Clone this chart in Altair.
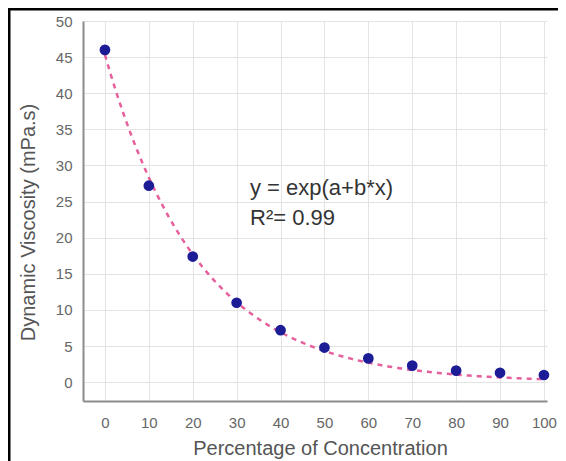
import altair as alt
import numpy as np
import pandas as pd

concentration = [0, 10, 20, 30, 40, 50, 60, 70, 80, 90, 100]
viscosity = [46.0, 27.2, 17.4, 11.0, 7.2, 4.8, 3.3, 2.3, 1.6, 1.3, 1.0]
x_ticks = [0, 10, 20, 30, 40, 50, 60, 70, 80, 90, 100]
y_ticks = [0, 5, 10, 15, 20, 25, 30, 35, 40, 45, 50]
annotation = ["y = exp(a+b*x)", "R\u00b2= 0.99"]

df = pd.DataFrame({"x": concentration, "y": viscosity})

# least-squares fit of y = exp(a + b*x) (Gauss-Newton, started from the log-linear fit)
xs = np.array(concentration, dtype=float)
ys = np.array(viscosity, dtype=float)
b, a = np.polyfit(xs, np.log(ys), 1)
for _ in range(50):
    f = np.exp(a + b * xs)
    J = np.column_stack([f, f * xs])
    step, *_ = np.linalg.lstsq(J, ys - f, rcond=None)
    a += step[0]
    b += step[1]

FONT = "Liberation Sans"

xscale = alt.Scale(domain=[-5, 100.7], nice=False, zero=False)
yscale = alt.Scale(domain=[-2.6, 50], nice=False, zero=False)

xaxis = alt.Axis(values=x_ticks, title="Percentage of Concentration", grid=True,
                 gridColor="#e3e3e3", gridWidth=1, ticks=False, labelPadding=21,
                 labelBaseline="middle", labelFontSize=15, labelColor="#666666",
                 labelFont=FONT, titleFont=FONT, titleFontSize=20, titleFontWeight="normal",
                 titleColor="#555555", titleX=237, titleY=47, titleBaseline="middle",
                 domainColor="#8c8c8c", domainWidth=2, labelFlush=False, labelOverlap=False)
yaxis = alt.Axis(values=y_ticks, title="Dynamic Viscosity (mPa.s)", grid=True,
                 gridColor="#e3e3e3", gridWidth=1, ticks=False, labelPadding=11,
                 labelFontSize=15, labelColor="#666666", labelFont=FONT,
                 titleFont=FONT, titleFontSize=20, titleFontWeight="normal",
                 titleColor="#555555", titleX=-55, titleY=201, titleBaseline="middle",
                 domainColor="#8c8c8c", domainWidth=2, labelFlush=False, labelOverlap=False)

X = alt.X("x:Q", scale=xscale, axis=xaxis)
Y = alt.Y("y:Q", scale=yscale, axis=yaxis)

fit = alt.Chart(alt.sequence(0, 100.5, 0.5, as_="x")).transform_calculate(
    y=f"exp({a:.6f} + ({b:.6f}) * datum.x)"
).mark_line(
    color="#e5609c", strokeDash=[5, 5], strokeWidth=2.5
).encode(x=X, y=Y)

points = alt.Chart(df).mark_circle(size=115, color="#1c1c96", opacity=1).encode(x=X, y=Y)

one = alt.Data(values=[{"a": 1}])

label = alt.Chart(one).mark_text(
    align="left", baseline="alphabetic", fontSize=22, font=FONT, color="#333333",
    lineHeight=30
).encode(
    x=alt.value(167), y=alt.value(174), text=alt.value(annotation)
)

frame_left = alt.Chart(one).mark_rule(color="black", strokeWidth=3).encode(
    x=alt.value(-74), y=alt.value(-13), y2=alt.value(440)
)
frame_top = alt.Chart(one).mark_rule(color="black", strokeWidth=3).encode(
    x=alt.value(-75.5), x2=alt.value(480), y=alt.value(-12)
)

chart = alt.layer(fit, points, label, frame_left, frame_top).properties(
    width=464, height=380,
    padding={"left": 75, "top": 13, "right": 11, "bottom": 60},
    autosize=alt.AutoSizeParams(type="none"),
    background="white",
).configure_view(strokeWidth=0)

chart.save("out.html", embed_options={"renderer": "svg", "actions": False})
